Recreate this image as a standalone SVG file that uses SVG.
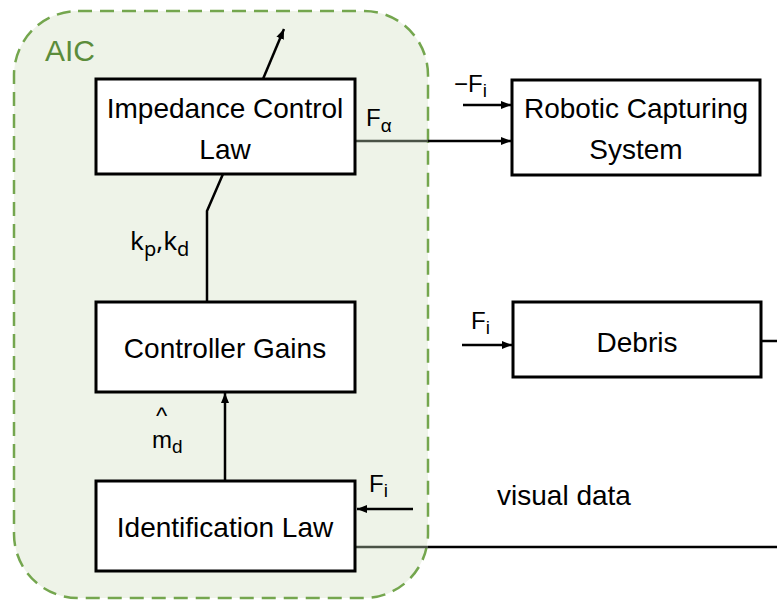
<svg xmlns="http://www.w3.org/2000/svg" width="777" height="603" viewBox="0 0 777 603">
  <defs>
    <marker id="arrow" viewBox="0 0 10 10" refX="10" refY="5" markerWidth="4" markerHeight="4" orient="auto" markerUnits="strokeWidth">
      <path d="M0,1 L10,5 L0,9 z" fill="#000"/>
    </marker>
    <style>
      .box { fill: #fff; stroke: #000; stroke-width: 3; }
      .lbl { font-family: "Liberation Sans", Arial, sans-serif; font-size: 28px; fill: #000; text-anchor: middle; }
      .sym { font-family: "Liberation Sans", Arial, sans-serif; font-size: 24px; fill: #000; }
      .sub { font-size: 19px; }
      .wire { stroke: #000; stroke-width: 2.5; fill: none; }
      .wire-in { stroke: #4a5246; stroke-width: 2.5; fill: none; }
    </style>
  </defs>

  <!-- AIC container -->
  <g id="aic">
    <rect x="14" y="11" width="414" height="587" rx="64" ry="64" fill="#eef3e8" stroke="#74a64e" stroke-width="2.5" stroke-dasharray="14 8"/>
    <text x="45" y="61" font-family="Liberation Sans, Arial, sans-serif" font-size="30" fill="#5b8c3b">AIC</text>
  </g>

  <!-- connectors -->
  <g id="connectors">
    <!-- impedance output upward -->
    <line class="wire" x1="263" y1="79" x2="284" y2="29" marker-end="url(#arrow)"/>
    <!-- gains to impedance -->
    <polyline class="wire" points="207,302 207,211 223,174"/>
    <!-- identification to gains -->
    <line class="wire" x1="225" y1="481" x2="225" y2="393" marker-end="url(#arrow)"/>
    <!-- F_alpha -->
    <line class="wire-in" x1="355" y1="141" x2="428" y2="141"/>
    <line class="wire" x1="428" y1="141" x2="511" y2="141" marker-end="url(#arrow)"/>
    <!-- -F_i -->
    <line class="wire" x1="463" y1="105" x2="511" y2="105" marker-end="url(#arrow)"/>
    <!-- F_i into debris -->
    <line class="wire" x1="462" y1="345" x2="512" y2="345" marker-end="url(#arrow)"/>
    <!-- debris output -->
    <line class="wire" x1="761" y1="341" x2="777" y2="341"/>
    <!-- F_i into identification -->
    <line class="wire" x1="413" y1="509" x2="357" y2="509" marker-end="url(#arrow)"/>
    <!-- visual data -->
    <line class="wire-in" x1="355" y1="547" x2="428" y2="547"/>
    <line class="wire" x1="428" y1="547" x2="777" y2="547"/>
  </g>

  <g id="impedance">
    <rect class="box" x="96" y="79" width="259" height="95"/>
    <text class="lbl" x="225" y="118">Impedance Control</text>
    <text class="lbl" x="225" y="159">Law</text>
  </g>

  <g id="gains">
    <rect class="box" x="96" y="302" width="259" height="90"/>
    <text class="lbl" x="225" y="358">Controller Gains</text>
  </g>

  <g id="identification">
    <rect class="box" x="96" y="481" width="259" height="90"/>
    <text class="lbl" x="225" y="537">Identification Law</text>
  </g>

  <g id="robot">
    <rect class="box" x="512" y="80" width="248" height="95"/>
    <text class="lbl" x="636" y="118">Robotic Capturing</text>
    <text class="lbl" x="636" y="159">System</text>
  </g>

  <g id="debris">
    <rect class="box" x="513" y="302" width="248" height="75"/>
    <text class="lbl" x="637" y="352">Debris</text>
  </g>

  <!-- signal labels -->
  <g id="labels">
    <text class="sym" x="366" y="126" fill="#555">F<tspan class="sub" dy="6">α</tspan></text>
    <text class="sym" x="454" y="92">−F<tspan class="sub" dy="5">i</tspan></text>
    <text class="sym" x="471" y="329">F<tspan class="sub" dy="5">i</tspan></text>
    <text class="sym" x="369" y="492">F<tspan class="sub" dy="5">i</tspan></text>
    <text x="130" y="250" font-family="Noto Sans, Open Sans, sans-serif" font-size="26">k<tspan font-size="20" dy="6">p</tspan><tspan dy="-6">,k</tspan><tspan font-size="20" dy="6">d</tspan></text>
    <text class="sym" x="156" y="424" font-size="16">^</text>
    <text class="sym" x="152" y="448">m<tspan class="sub" dy="5">d</tspan></text>
    <text class="lbl" x="564" y="505">visual data</text>
  </g>
</svg>
